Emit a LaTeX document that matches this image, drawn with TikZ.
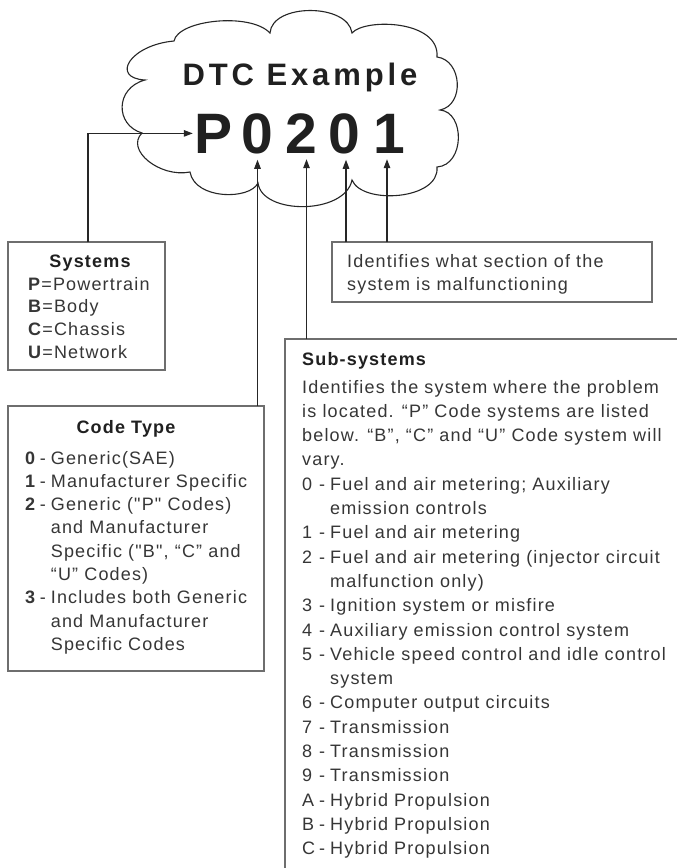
\documentclass[tikz,border=0pt]{standalone}
\usepackage{fontspec}
\setmainfont{Liberation Sans}
\newfontfamily\bodyfont{Liberation Sans}[LetterSpace=6.5]
\newfontfamily\headfont{Liberation Sans}[LetterSpace=12.5]
\usetikzlibrary{arrows.meta}
\definecolor{txt}{HTML}{363636}
\definecolor{ttl}{HTML}{202020}
\definecolor{boxc}{HTML}{6E6E6E}
\definecolor{ln}{HTML}{262626}
\newcommand\stq{\char"22\relax}
\begin{document}
\begin{tikzpicture}[x=1pt,y=-1pt,
  boxst/.style={draw=boxc, line width=1.4pt, anchor=north west, inner sep=0pt, outer sep=0pt},
  arr/.style={draw=ln, line width=1.2pt, -{Triangle[length=9pt,width=6.5pt]}},
  cloudst/.style={draw=ln, line width=1.1pt},
  dig/.style={anchor=base, inner sep=0pt, text=ttl, font=\bfseries\fontsize{57}{57}\selectfont},
  ttlst/.style={inner sep=0pt, text=ttl, font=\bodyfont\bfseries\fontsize{18}{22}\selectfont},
  body/.style={anchor=base west, inner sep=0pt, text=txt, font=\bodyfont\fontsize{18}{#1}\selectfont},
  body/.default=23.3]
\useasboundingbox (0,0) rectangle (677,868);
\clip (0,0) rectangle (677,868);
\fill[white] (0,0) rectangle (677,868);
% cloud
\draw[cloudst] (174,41) .. controls (178,20) and (250,12) .. (270,33)
  .. controls (272,3) and (348,3) .. (352,33)
  .. controls (365,18) and (440,20) .. (437,57)
  .. controls (462,60) and (465,105) .. (440,110)
  .. controls (465,112) and (465,165) .. (437,167)
  .. controls (440,200) and (362,205) .. (352,180)
  .. controls (345,215) and (262,215) .. (258,183)
  .. controls (250,200) and (195,200) .. (190,172)
  .. controls (160,178) and (125,150) .. (142,133)
  .. controls (115,125) and (115,88) .. (145,80)
  .. controls (110,78) and (130,45) .. (174,41) -- cycle;
\node[anchor=base, inner sep=0pt, text=ttl, font=\headfont\bfseries\fontsize{31}{31}\selectfont] (dtc) at (300,85) {DTC Example};
\node[dig] (pP) at (214,153) {P};
\node[dig] (d1) at (257.5,153) {0};
\node[dig] (d2) at (301.5,153) {2};
\node[dig] (d3) at (344,153) {0};
\node[dig] (d4) at (389,153) {1};
% boxes
\node[boxst, minimum width=157pt, minimum height=128pt] (sys) at (8,242) {};
\node[boxst, minimum width=256pt, minimum height=265pt] (code) at (8,406) {};
\node[boxst, minimum width=320pt, minimum height=60pt] (sec) at (332,242) {};
\node[boxst, minimum width=400pt, minimum height=560pt] (sub) at (285,339) {};
% connectors
\coordinate (t2) at ([xshift=5pt]d2.south);
\coordinate (t3) at ([xshift=2pt]d3.south);
\coordinate (t4) at ([xshift=-2pt]d4.south);
\draw[arr, shorten >=2pt] ([xshift=1.5pt]sys.north) |- (pP.west);
\draw[arr, shorten >=6pt] (code.north -| d1.south) -- (d1.south);
\draw[arr, shorten >=6pt] (sub.north -| t2) -- (t2);
\draw[arr, shorten >=6pt] (sec.north -| t3) -- (t3);
\draw[arr, shorten >=6pt] (sec.north -| t4) -- (t4);
% texts
\node[ttlst, anchor=base] (sysT) at (90,267) {Systems};
\node[body=22.7] (sysL) at (28,290) {\begin{tabular}[t]{@{}l@{}}
\textbf{P}=Powertrain\\ \textbf{B}=Body\\ \textbf{C}=Chassis\\ \textbf{U}=Network\end{tabular}};
\node[ttlst, anchor=base] (codeT) at (126,433) {Code Type};
\node[body=23.3] (codeL) at (25,464) {\begin{tabular}[t]{@{}l@{\hspace{3.5pt}}l@{\hspace{5pt}}l@{}}
\textbf{0} & - & Generic(SAE)\\
\textbf{1} & - & Manufacturer Specific\\
\textbf{2} & - & Generic (\stq P\stq{} Codes)\\
 & & and Manufacturer\\
 & & Specific (\stq B\stq, “C” and\\
 & & “U” Codes)\\
\textbf{3} & - & Includes both Generic\\
 & & and Manufacturer\\
 & & Specific Codes
\end{tabular}};
\node[body=23.3] (secL) at (347,267) {\begin{tabular}[t]{@{}l@{}}
Identifies what section of the\\ system is malfunctioning\end{tabular}};
\node[ttlst, anchor=base west] (subT) at (302,365) {Sub-systems};
\node[body=24.3] (subL) at (302,393) {\begin{tabular}[t]{@{}l@{\hspace{4pt}}l@{\hspace{5pt}}l@{}}
\multicolumn{3}{@{}l@{}}{Identifies the system where the problem}\\
\multicolumn{3}{@{}l@{}}{is located. “P” Code systems are listed}\\
\multicolumn{3}{@{}l@{}}{below. “B”, “C” and “U” Code system will}\\
\multicolumn{3}{@{}l@{}}{vary.}\\
0 & - & Fuel and air metering; Auxiliary\\
 & & emission controls\\
1 & - & Fuel and air metering\\
2 & - & Fuel and air metering (injector circuit\\
 & & malfunction only)\\
3 & - & Ignition system or misfire\\
4 & - & Auxiliary emission control system\\
5 & - & Vehicle speed control and idle control\\
 & & system\\
6 & - & Computer output circuits\\
7 & - & Transmission\\
8 & - & Transmission\\
9 & - & Transmission\\
A & - & Hybrid Propulsion\\
B & - & Hybrid Propulsion\\
C & - & Hybrid Propulsion
\end{tabular}};
\end{tikzpicture}
\end{document}
